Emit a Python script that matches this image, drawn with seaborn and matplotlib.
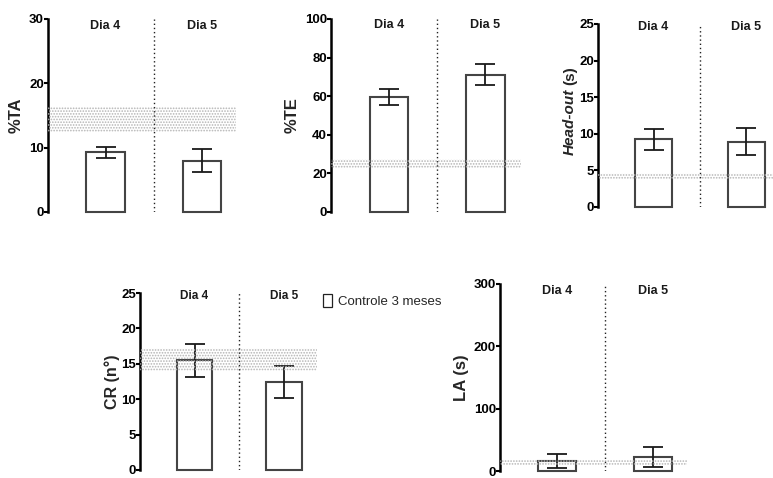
import matplotlib
matplotlib.use("Agg")
import matplotlib.pyplot as plt
from matplotlib.patches import Patch
import seaborn as sns
import pandas as pd

sns.set_style("white")
plt.rcParams["font.family"] = ["Liberation Sans", "DejaVu Sans"]
plt.rcParams["hatch.linewidth"] = 0.8

# Group means, SEM and the control reference band (3-month controls)
dias = ["Dia 4", "Dia 5"]

ta_mean = [9.3, 8.0]
ta_sem = [0.85, 1.75]
ta_ctrl = (12.5, 16.3)

te_mean = [59.7, 71.1]
te_sem = [4.2, 5.4]
te_ctrl = (23.0, 27.5)

ho_mean = [9.2, 8.9]
ho_sem = [1.5, 1.85]
ho_ctrl = (3.8, 4.6)

cr_mean = [15.5, 12.4]
cr_sem = [2.35, 2.3]
cr_ctrl = (14.0, 17.2)

la_mean = [16.2, 22.0]
la_sem = [10.7, 16.3]
la_ctrl = (10.4, 18.3)

W, H = 773, 478
fig = plt.figure(figsize=(W / 100, H / 100), dpi=100)


def add_panel(px, xlim, ymax, ystep, means, sems, ctrl, label_y, dia_fs=9):
    left, top, right, bottom = px
    ax = fig.add_axes([left / W, 1 - bottom / H, (right - left) / W, (bottom - top) / H])
    df = pd.DataFrame({"dia": dias, "valor": means})
    sns.barplot(data=df, x="dia", y="valor", ax=ax, color="white",
                edgecolor="#444444", linewidth=1.5, width=0.40,
                errorbar=None, saturation=1, zorder=2)
    for p in ax.patches:
        p.set_facecolor("white")
        p.set_clip_on(False)
    ax.errorbar(x=[0, 1], y=means, yerr=sems, fmt="none", ecolor="#1a1a1a",
                elinewidth=1.3, capsize=7, capthick=1.3, zorder=3)
    # control reference band, stippled
    ax.axhspan(ctrl[0], ctrl[1], facecolor="none", edgecolor="#b4b4b4",
               hatch="......", linewidth=0, zorder=4)
    ax.axvline(0.5, color="#222222", ls=(0, (1, 2)), lw=1, zorder=5)
    ax.set_xlim(*xlim)
    ax.set_ylim(0, ymax)
    ax.set_yticks(range(0, ymax + 1, ystep))
    ax.set_xticks([])
    ax.set_xlabel("")
    ax.set_ylabel("")
    for s in ["top", "right", "bottom"]:
        ax.spines[s].set_visible(False)
    ax.spines["left"].set_linewidth(1.8)
    ax.spines["left"].set_color("black")
    ax.tick_params(axis="y", direction="out", length=2.7, width=1.5,
                   labelsize=9.5, pad=0.3, left=True, colors="black")
    for t in ax.get_yticklabels():
        t.set_fontweight("bold")
    tr = ax.get_xaxis_transform()
    for i, d in enumerate(dias):
        ax.text(i, label_y, d, transform=tr, ha="center", va="center",
                fontsize=dia_fs, fontweight="bold", color="#1a1a1a")
    return ax


ax1 = add_panel((48, 19, 236, 212), (-0.596, 1.352), 30, 10, ta_mean, ta_sem, ta_ctrl, 0.964)
ax1.text(-0.170, 0.5, "%TA", transform=ax1.transAxes, rotation=90,
         ha="center", va="center", fontsize=12, fontweight="bold")

ax2 = add_panel((331, 19, 521, 212), (-0.601, 1.368), 100, 20, te_mean, te_sem, te_ctrl, 0.97)
ax2.text(-0.205, 0.5, "%TE", transform=ax2.transAxes, rotation=90,
         ha="center", va="center", fontsize=12, fontweight="bold")

ax3 = add_panel((598, 24, 773, 206.7), (-0.597, 1.285), 25, 5, ho_mean, ho_sem, ho_ctrl, 0.985)
t_head = ax3.text(-0.16, 0.283, "Head-out", transform=ax3.transAxes, rotation=90,
                  ha="center", va="bottom", fontsize=11, fontweight="bold", style="italic")
fig.canvas.draw()
bb = t_head.get_window_extent(fig.canvas.get_renderer())
top_frac = ax3.transAxes.inverted().transform((bb.x0, bb.y1))[1]
ax3.text(-0.16, top_frac + 0.02, "(s)", transform=ax3.transAxes, rotation=90,
         ha="center", va="bottom", fontsize=11, fontweight="bold")

ax4 = add_panel((140, 293, 316.7, 470), (-0.609, 1.365), 25, 5, cr_mean, cr_sem, cr_ctrl, 0.985, dia_fs=8.5)
ax4.text(-0.16, 0.5, "CR (n\u00b0)", transform=ax4.transAxes, rotation=90,
         ha="center", va="center", fontsize=11.5, fontweight="bold")
fig.legend(handles=[Patch(facecolor="white", edgecolor="#222222", linewidth=0.9,
                          label="Controle 3 meses")],
           loc="upper left", bbox_to_anchor=(323 / W, 1 - 294 / H), frameon=False,
           fontsize=9.5, handlelength=0.7, handleheight=1.1, handletextpad=0.45,
           borderpad=0, borderaxespad=0)

ax5 = add_panel((500, 284, 686.7, 471), (-0.594, 1.35), 300, 100, la_mean, la_sem, la_ctrl, 0.965)
ax5.text(-0.205, 0.5, "LA (s)", transform=ax5.transAxes, rotation=90,
         ha="center", va="center", fontsize=12, fontweight="bold")

fig.savefig("out.png", dpi=100)
